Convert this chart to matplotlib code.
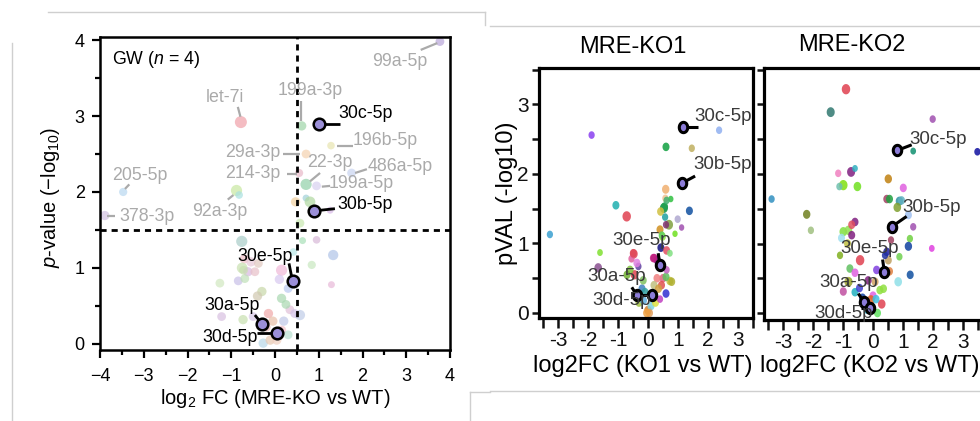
import numpy as np
import matplotlib
matplotlib.use("Agg")
import matplotlib.pyplot as plt
from matplotlib.path import Path
from matplotlib.lines import Line2D

plt.rcParams['font.family'] = ['Liberation Sans', 'DejaVu Sans']
plt.rcParams['mathtext.fontset'] = 'custom'
plt.rcParams['mathtext.rm'] = 'Liberation Sans'
plt.rcParams['mathtext.it'] = 'Liberation Sans:italic'

# ---------------- GW panel (n = 4) ----------------
# background miRNAs, log2FC / -log10 p
gw_x = [3.77, -0.78, 0.61, 1.28, 0.71, 0.55, 0.71, 0.95, 1.75, -3.47, -3.89, -0.88, -0.82,
        0.71, 0.47, 0.80, 1.26, 0.57, 0.63, 0.95, -0.76, 1.33, 0.42, 0.84, -0.70, -0.55,
        -0.75, -0.62, 1.29, -1.26, -0.84, -0.69, -0.46, -0.72, -0.38, 0.15, 0.30, 0.15,
        -0.30, -0.15, 0.34, 0.57, -0.50, -0.73, 0.15, -0.27, -0.11, 0.04, -0.40, 0.25,
        -0.05, 0.10, -1.22, 0.20, -0.20, 0.30, 0.45]
gw_y = [3.98, 2.92, 2.87, 2.61, 2.50, 2.25, 2.10, 2.08, 2.25, 2.00, 1.69, 2.02, 1.96,
        1.92, 1.87, 1.87, 1.76, 1.59, 1.36, 1.37, 1.35, 1.17, 1.21, 1.04, 1.12, 1.08,
        1.00, 0.95, 0.78, 0.80, 0.83, 0.86, 0.95, 0.97, 1.06, 0.97, 0.73, 0.60,
        0.69, 0.40, 0.45, 0.38, 0.36, 0.32, 0.18, 0.01, 0.05, 0.05, 0.63, 0.52,
        0.30, 0.85, 0.36, 0.30, 0.22, 0.12, 0.40]
gw_colors = ['#b9a6d9', '#f0a0a8', '#9fd5a8', '#e8e4b0', '#f5d2b0', '#e8b8c8', '#90d0a8',
             '#d8d0f0', '#c8d4f0', '#b8d8f0', '#d0c0e0', '#c8e8a0', '#a8e0e0',
             '#a0d0d8', '#f0d0a0', '#b0d8a0', '#d8b8e8', '#c8e8b0', '#a8e0b8', '#d8b8d8',
             '#a8ccc8', '#b0c4e8', '#b8e8e8', '#c8e8c0', '#f0c0c8', '#e8c8d8',
             '#c8e0b0', '#d8b8e0', '#e8b8d8', '#d0e8c0', '#c8c0e8', '#c0e0b8', '#e8c0c8',
             '#c8e0b0', '#e0c8c0', '#f0b8d8', '#b8c8f0', '#a8d8b0',
             '#c8d8a8', '#f0a8a8', '#e0c0d8', '#c0cce8', '#d8c8e8', '#c8e0b0', '#f0c0c8',
             '#b8d8e8', '#e8c8b0', '#f0d0c0', '#d0c8b0', '#a8d8b0',
             '#e8c0a8', '#d8c8f0', '#d8c0e0', '#c0c8e8', '#e8b8b8', '#b8e0d0', '#d0c0e8']
gw_sizes = [40, 75, 45, 30, 40, 35, 65, 40, 40, 35, 45, 65, 30,
            25, 45, 60, 25, 40, 25, 30, 65, 55, 30, 35, 45, 45,
            60, 45, 25, 40, 40, 40, 40, 40, 40, 65, 40, 45,
            45, 45, 40, 55, 40, 45, 45, 45, 45, 45, 45, 40,
            45, 45, 40, 45, 40, 40, 40]

# labelled background miRNAs: name, text centre, connector start, connector end
gw_names = ['99a-5p', 'let-7i', '199a-3p', '196b-5p', '29a-3p', '214-3p', '22-3p',
            '486a-5p', '199a-5p', '205-5p', '378-3p', '92a-3p']
gw_name_xy = [(2.86, 3.72), (-1.14, 3.25), (0.80, 3.34), (2.51, 2.68), (-0.50, 2.52),
              (-0.50, 2.24), (1.26, 2.39), (2.86, 2.33), (1.98, 2.11), (-3.09, 2.22),
              (-2.93, 1.68), (-1.27, 1.74)]
gw_name_lines = [((3.33, 3.87), (3.71, 3.96)), ((-0.85, 3.12), (-0.79, 2.99)),
                 ((0.60, 3.20), (0.60, 2.93)), ((1.41, 2.61), (1.79, 2.61)),
                 ((0.19, 2.50), (0.57, 2.50)), ((0.27, 2.24), (0.50, 2.24)),
                 ((0.80, 2.14), (1.03, 2.25)), ((1.83, 2.25), (2.10, 2.30)),
                 ((1.07, 2.07), (1.26, 2.08)), ((-3.43, 2.04), (-3.33, 2.10)),
                 ((-3.83, 1.68), (-3.66, 1.68)), ((-1.08, 1.90), (-0.95, 1.96))]

# miR-30 family
mir30 = ['30a-5p', '30b-5p', '30c-5p', '30d-5p', '30e-5p']
gw30_x = [-0.29, 0.88, 1.01, 0.04, 0.40]
gw30_y = [0.26, 1.75, 2.89, 0.15, 0.83]
ko1_30_x = [-0.38, 1.14, 1.18, 0.12, 0.40]
ko1_30_y = [0.26, 1.87, 2.67, 0.26, 0.69]
ko2_30_x = [-0.30, 0.62, 0.81, -0.10, 0.38]
ko2_30_y = [0.16, 1.24, 2.34, 0.07, 0.59]

# ---------------- individual KO lines ----------------
ko1_x = [-1.88, -3.27, -1.07, -0.71, -1.60, -1.66, -0.47, 0.60, 1.46, 2.37, 1.38, 0.99,
         1.12, 0.90, 0.76, 0.59, 0.58, 0.53, 0.55, 0.42, 0.70, 0.60, 0.40, 0.48, 0.43,
         0.62, 0.73, 0.21, 0.30, -0.32, -0.37, -0.45, -0.60, -0.70, 0.73, 0.60, 0.50,
         0.45, 0.30, 0.60, -0.20, -0.10, 0.20, 0.35, -0.30, 0.00, 0.10, 0.25, -0.15,
         0.40, 0.05, 0.46, 0.62, -0.55, 0.62, 0.18, -0.16, -0.04, -0.49, 0.79, 0.57]
ko1_y = [2.56, 1.13, 1.55, 1.39, 0.87, 0.65, 0.85, 2.39, 2.37, 2.63, 1.47, 1.35,
         1.23, 1.14, 1.64, 1.78, 1.65, 1.51, 1.53, 1.46, 1.27, 1.27, 1.20, 1.10, 0.94,
         0.90, 0.86, 0.79, 0.76, 0.67, 0.72, 0.55, 0.62, 0.55, 0.46, 0.28, 0.50,
         0.40, 0.50, 0.52, 0.35, 0.30, 0.40, 0.35, 0.15, 0.04, 0.10, 0.15, 0.18,
         0.20, 0.00, 1.12, 0.62, 0.78, 1.62, 0.79, 0.47, 0.00, 0.86, 0.45, 1.38]
ko1_c = ['#8a3ff0', '#3ba0d0', '#20b0b0', '#e04050', '#80e030', '#8a5090', '#e04858',
         '#10a040', '#c0b060', '#90b0f0', '#1050a0', '#b0a8d0', '#a050b0', '#70e020',
         '#30c040', '#f0b070', '#f0c090', '#109040', '#20a050', '#d0c040', '#80a040',
         '#803070', '#d09020', '#90e040', '#101080', '#e05060', '#80e080', '#c02080',
         '#902090', '#6040a0', '#e080e0', '#e04050', '#80c040', '#70b030', '#c0c040',
         '#3030d0', '#e06080', '#e05050', '#f08080', '#60c060', '#4080c0', '#30a0a0',
         '#c0c080', '#d0a040', '#a0c040', '#d08030', '#80d0e0', '#e0e040', '#60b0e0',
         '#c040c0', '#e0a060', '#60d060', '#c060c0', '#e060a0', '#40b070', '#c02080',
         '#80c060', '#f0a040', '#e04858', '#b0b030', '#20a0a0']
ko1_s = [30, 30, 38, 55, 25, 45, 45, 38, 30, 30, 38, 30, 22, 22, 22, 42, 30, 50,
         38, 38, 50, 30, 38, 38, 38, 38, 25, 38, 38, 30, 38, 45, 38, 38, 38, 38,
         38, 38, 38, 38, 38, 38, 38, 38, 38, 42, 38, 38, 38, 30, 38, 30, 30, 30,
         30, 38, 38, 42, 38, 38, 30]

ko2_x = [-0.90, -1.41, 1.99, 1.34, 3.48, -1.16, -0.73, -0.60, 0.51, 1.01, -0.99, -0.52,
         -1.12, -3.38, -2.21, -2.07, 0.46, 0.55, 0.88, 0.95, 0.81, 1.18, 1.34, 1.23,
         1.18, 1.96, 1.24, 0.84, 0.88, -0.60, -0.99, -0.82, -0.71, -1.05, -0.71, -0.85,
         -1.10, -0.43, -0.77, -0.60, -0.80, -0.99, -0.60, -0.82, 0.07, -0.16, 0.23,
         0.00, 0.46, 0.51, 0.12, 0.55, 0.40, -0.35, -0.07, 0.29, 0.10, -0.20, 0.15,
         0.35, 0.60, -0.45]
ko2_y = [3.22, 2.89, 2.79, 2.33, 2.32, 2.01, 2.03, 2.08, 1.93, 1.80, 1.84, 1.82,
         1.82, 1.64, 1.42, 1.19, 1.64, 1.64, 1.61, 1.62, 1.52, 1.41, 1.24, 1.07,
         0.96, 0.93, 0.55, 0.45, 0.81, 1.31, 1.17, 1.19, 1.27, 1.08, 1.12, 1.00,
         0.83, 0.76, 0.64, 0.58, 0.45, 0.31, 0.30, 0.45, 0.45, 0.47, 0.33,
         0.25, 0.88, 0.76, 0.62, 0.60, 0.83, 0.22, 0.19, 0.13, 0.20, 0.05, 0.00,
         0.35, 1.05, 0.36]
ko2_c = ['#e04050', '#307870', '#a050b0', '#109070', '#1010a0', '#f080c0', '#802080',
         '#30b0c0', '#c08010', '#e060e0', '#80e010', '#70e020', '#70c0b0', '#3090c0',
         '#708020', '#a0c080', '#a04060', '#20a040', '#3090a0', '#60b0c0', '#80a030',
         '#a0c0f0', '#a050b0', '#70d040', '#1040a0', '#e040e0', '#1050a0', '#90e0e8',
         '#70d050', '#802080', '#80e040', '#90e050', '#e05060', '#a0e0f0', '#802080',
         '#c0c040', '#80b020', '#e04050', '#60c060', '#e060e0', '#50a050', '#c050a0',
         '#20b0c0', '#b0b040', '#d0a060', '#802080', '#90e040', '#e060e0', '#2020a0',
         '#c0a060', '#8040e0', '#e08040', '#2030a0', '#1040a0', '#e06020', '#e04050',
         '#40c0e0', '#20a0c0', '#60e060', '#90e040', '#a04060', '#4040d0']
ko2_s = [55, 50, 30, 25, 30, 30, 50, 25, 42, 38, 55, 45, 30, 30, 42, 30, 38, 38,
         42, 38, 45, 38, 30, 30, 42, 25, 38, 45, 30, 38, 45, 45, 38, 38, 38, 38,
         30, 55, 38, 38, 38, 38, 38, 50, 38, 38, 38, 38, 38, 38, 38, 38, 30, 38,
         45, 45, 38, 38, 38, 38, 30, 38]

# label layout for the miR-30 family: text centre, connector end
gw30_text = [(-0.98, 0.51), (1.42, 1.84), (1.45, 3.03), (-1.03, 0.08), (-0.23, 1.15)]
gw30_ha = ['center', 'left', 'left', 'center', 'center']
gw30_end = [(-0.46, 0.38), (1.37, 1.78), (1.49, 2.89), (-0.42, 0.15), (0.32, 1.06)]
ko1_30_text = [(-1.04, 0.53), (2.49, 2.13), (2.51, 2.82), (-0.88, 0.18), (-0.21, 1.04)]
ko1_30_end = [(-0.54, 0.37), (1.57, 1.97), (1.68, 2.67), (-0.20, 0.26), (0.34, 0.86)]
ko2_30_text = [(-0.82, 0.44), (1.96, 1.52), (2.18, 2.50), (-0.99, 0.00), (-0.10, 0.93)]
ko2_30_end = [(-0.49, 0.28), (1.12, 1.39), (1.29, 2.42), (-0.40, 0.07), (0.32, 0.77)]

theta = np.linspace(0, 2 * np.pi, 60)
ellipse = Path(np.column_stack([0.82 * np.cos(theta), np.sin(theta)]), closed=True)

fig = plt.figure(figsize=(9.8, 4.21), dpi=100)

# faint frame lines of the figure panels
frame = '#cfcfcf'
for xs, ys in [([48, 485], [12, 12]), ([485, 485], [12, 25]), ([12, 12], [43, 421]),
               ([470, 470], [392, 421]), ([470, 490], [392, 392]),
               ([490, 980], [26, 26]), ([490, 980], [391, 391])]:
    fig.add_artist(Line2D([x / 980 for x in xs], [1 - y / 421 for y in ys],
                          color=frame, lw=1))

# ---- GW ----
ax = fig.add_axes([100 / 980, 1 - 350 / 421, 350 / 980, 313 / 421])
ax.set_xlim(-4, 4)
ax.set_ylim(-0.08, 4.04)
ax.scatter(gw_x, gw_y, s=gw_sizes, c=gw_colors, alpha=0.7, lw=0, zorder=2)
ax.axvline(0.5, color='k', lw=2, ls=(0, (2.2, 1.8)), zorder=3)
ax.axhline(1.5, color='k', lw=2, ls=(0, (2.2, 1.8)), zorder=3)
for name, (tx, ty), (p0, p1) in zip(gw_names, gw_name_xy, gw_name_lines):
    ax.plot([p0[0], p1[0]], [p0[1], p1[1]], color='#aaaaaa', lw=1.6, zorder=4,
            solid_capstyle='butt')
    ax.text(tx, ty, name, color='#aaaaaa', fontsize=12.8, ha='center', va='center',
            zorder=4)
for i, name in enumerate(mir30):
    ex, ey = gw30_end[i]
    ax.plot([gw30_x[i], ex], [gw30_y[i], ey], color='k', lw=2, zorder=5,
            solid_capstyle='butt')
    tx, ty = gw30_text[i]
    ax.text(tx, ty, name, color='k', fontsize=12.8, ha=gw30_ha[i], va='center', zorder=6)
ax.scatter(gw30_x, gw30_y, s=70, c='#9b8fd8', edgecolors='k', linewidths=1.8, zorder=6)
ax.text(-3.72, 3.74, 'GW ($\\it{n}$ = 4)', fontsize=12.8, ha='left', va='center')

ax.set_xticks(range(-4, 5))
ax.set_xticklabels([str(v).replace('-', '\u2212') for v in range(-4, 5)])
ax.set_xticks(np.arange(-4, 4.01, 0.5), minor=True)
ax.set_yticks(range(0, 5))
ax.set_yticks(np.arange(0, 4.01, 0.5), minor=True)
ax.tick_params(which='major', length=6, width=1.6, labelsize=13, pad=5)
ax.tick_params(axis='x', which='major', pad=7)
ax.tick_params(which='minor', length=3.5, width=1.6)
for sp in ax.spines.values():
    sp.set_linewidth(1.8)
fig.text(50 / 980, 1 - 197 / 421, '$\\it{p}$-value (\u2212log$_{10}$)', rotation=90,
         fontsize=14.5, ha='center', va='center')
fig.text(275 / 980, 1 - 398 / 421, 'log$_2$ FC (MRE-KO vs WT)', fontsize=14.5,
         ha='center', va='center')


# ---- KO panels ----
def ko_panel(rect, xlim, ylim, px, py, cols, sizes, hx, hy, htext, hend, ylabels):
    a = fig.add_axes(rect)
    a.set_xlim(*xlim)
    a.set_ylim(*ylim)
    a.scatter(px, py, s=sizes, c=cols, marker=ellipse, alpha=0.85, lw=0, zorder=2)
    for i, name in enumerate(mir30):
        ex, ey = hend[i]
        a.plot([hx[i], ex], [hy[i], ey], color='k', lw=2.2, zorder=4,
               solid_capstyle='butt')
    a.scatter(hx, hy, s=55, c='#8c7cd8', marker=ellipse, edgecolors='k',
              linewidths=2.2, zorder=5)
    for i, name in enumerate(mir30):
        tx, ty = htext[i]
        a.text(tx, ty, name, color='#3a3a3a', fontsize=13.5, ha='center', va='center',
               zorder=6)
    a.set_xticks(range(-3, 4))
    a.set_xticklabels([str(v) for v in range(-3, 4)])
    a.set_xticks(np.arange(-3.5, 3.51, 0.5), minor=True)
    a.set_yticks(range(0, 4))
    a.set_yticks(np.arange(0, 3.51, 0.5), minor=True)
    if ylabels:
        a.set_yticklabels(['0', '1', '2', '3'])
    else:
        a.set_yticklabels([])
    a.tick_params(which='both', length=5, width=1.8, labelsize=15, pad=2,
                  colors='#111111')
    a.tick_params(axis='x', which='both', length=7, pad=2)
    for sp in a.spines.values():
        sp.set_linewidth(2.3)
    return a


ko_panel([538.5 / 980, 1 - 318 / 421, 214.5 / 980, 250 / 421], (-3.65, 3.5),
         (-0.072, 3.525), ko1_x, ko1_y, ko1_c, ko1_s, ko1_30_x, ko1_30_y,
         ko1_30_text, ko1_30_end, True)
ko_panel([763.5 / 980, 1 - 320 / 421, 222 / 980, 252 / 421], (-3.65, 3.75),
         (-0.1, 3.525), ko2_x, ko2_y, ko2_c, ko2_s, ko2_30_x, ko2_30_y,
         ko2_30_text, ko2_30_end, False)

fig.text(633 / 980, 1 - 47 / 421, 'MRE-KO1', fontsize=17, ha='center', va='center')
fig.text(852 / 980, 1 - 45 / 421, 'MRE-KO2', fontsize=17, ha='center', va='center')
fig.text(507 / 980, 1 - 193 / 421, 'pVAL (-log10)', fontsize=17, rotation=90,
         ha='center', va='center')
fig.text(643 / 980, 1 - 366 / 421, 'log2FC (KO1 vs WT)', fontsize=17, ha='center',
         va='center')
fig.text(870 / 980, 1 - 366 / 421, 'log2FC (KO2 vs WT)', fontsize=17, ha='center',
         va='center')

fig.savefig('out.png', dpi=100)
